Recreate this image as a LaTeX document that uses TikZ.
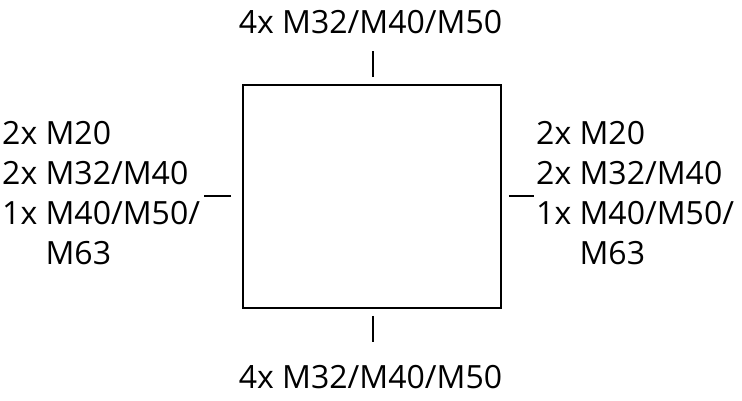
\documentclass[tikz,border=0pt]{standalone}
\usepackage{fontspec}
\setmainfont{Open Sans}
\usetikzlibrary{calc}
\begin{document}
\begin{tikzpicture}[x=1pt,y=1pt,
  lbl/.style={inner sep=0pt,font=\fontsize{32}{39.7}\selectfont,align=left},
  stub/.style={line width=2pt,black},
  boxst/.style={draw=black,line width=1.6pt,minimum width=258pt,minimum height=223pt,inner sep=0pt}]
\useasboundingbox (0,0) rectangle (742,400);
\node[boxst] (box) at (372,203.5) {};
\coordinate (t1) at ($(box.north)+(1,7)$);
\coordinate (t2) at ($(box.north)+(1,33)$);
\coordinate (b1) at ($(box.south)+(1,-7)$);
\coordinate (b2) at ($(box.south)+(1,-33)$);
\coordinate (l1) at ($(box.west)+(-11,0.5)$);
\coordinate (l2) at ($(box.west)+(-38,0.5)$);
\coordinate (r1) at ($(box.east)+(7,0.5)$);
\coordinate (r2) at ($(box.east)+(32,0.5)$);
\draw[stub] (t1) -- (t2);
\draw[stub] (b1) -- (b2);
\draw[stub] (l1) -- (l2);
\draw[stub] (r1) -- (r2);
\node[lbl,anchor=base] (top) at (370.5,366) {4x M32/M40/M50};
\node[lbl,anchor=base] (bot) at (370.5,12) {4x M32/M40/M50};
\node[lbl,anchor=base west] (left) at (2,136) {2x M20\\2x M32/M40\\1x M40/M50/\\\phantom{1x }M63};
\node[lbl,anchor=base west] (right) at (536,136) {2x M20\\2x M32/M40\\1x M40/M50/\\\phantom{1x }M63};
\end{tikzpicture}
\end{document}
